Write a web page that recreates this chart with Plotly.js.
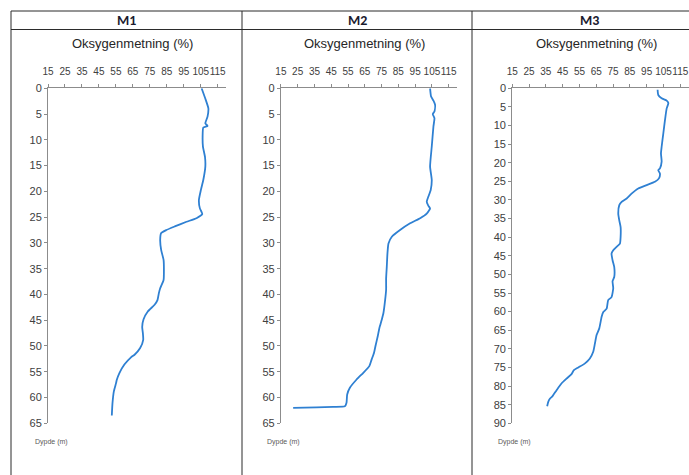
<!DOCTYPE html>
<html>
<head>
<meta charset="utf-8">
<script src="https://cdn.plot.ly/plotly-3.0.1.min.js"></script>
<style>html,body{margin:0;padding:0;background:#fff;}#chart{width:689px;height:475px;}</style>
</head>
<body>
<div id="chart"></div>
<script>
// Stations
const stations = ["M1", "M2", "M3"];
const xTitle = "Oksygenmetning (%)";
const yTitle = "Dypde (m)";
const xTickVals = [15, 25, 35, 45, 55, 65, 75, 85, 95, 105, 115];

// M1
const m1Depth = [0,2.3,3.9,5.5,6.8,7.3,7.6,9.4,11.3,13.3,15.2,17.8,19.7,21.7,23.3,24.4,25.2,25.9,26.8,27.5,28.1,29.4,31.4,33.3,35.2,37.2,38.8,39.8,41.1,42.0,43.3,44.8,46.3,47.5,48.8,50.4,51.7,52.2,53.6,55.3,56.6,57.2,58.8,61.1,63.5];
const m1Oxy = [105.5,108,109.5,109,107.7,109,106.5,106.1,106.3,107.5,107.7,106.5,105.1,103.9,104.5,105.9,102.5,96.6,89.7,84.7,81.7,81.1,81.7,83.1,83.3,83.1,81.1,80.3,79.5,77.8,73.8,71.3,70.5,70.9,71.1,69.3,66,63.9,60,57,55.5,55.1,53.8,53,52.6];

// M2
const m2Depth = [0,1.6,2.4,3.2,4.5,5.0,5.8,7.4,11.3,15.2,17.8,19.7,21.0,22.0,22.8,23.3,24.3,25.2,26.2,27.5,28.8,30.1,32.0,34.6,36.9,39.1,41.1,43.6,44.9,46.5,48.1,49.8,51.3,52.6,53.9,55.2,56.5,58.1,59.4,61.0,61.7,61.8,61.9,62.0];
const m2Oxy = [103.9,104.5,105.9,106.9,106.5,105.5,106.5,105.9,104.9,103.9,104.9,104.3,102.9,101.9,102.9,103.9,101.9,98,92,86,81.1,79.1,78.5,78.1,77.7,77.7,77.1,76.1,75.1,73.7,72.7,71.5,70.5,69.1,67.7,64.1,60.1,56.1,54.5,54.1,53.1,46.1,36.2,22.3];

// M3
const m3Depth = [0.4,1.8,2.7,3.3,4.0,5.4,8.5,12.1,15.7,17.5,19.7,21.5,22.0,22.9,24.2,25.1,26.0,26.9,28.3,29.6,30.5,31.4,33.7,35.5,37.3,39.9,41.7,42.6,43.5,44.4,46.2,48.0,50.7,51.8,53.7,56.1,56.9,59.2,60.1,61.4,64.5,66.3,68.6,70.8,72.6,73.9,75.0,75.7,76.8,78.0,79.3,81.1,82.7,83.4,84.3,85.4];
const m3Oxy = [101.5,101.9,103.9,106.9,107.9,106.9,105.9,104.9,103.9,103.5,103.9,102.9,101.9,102.9,102.3,99.9,95,90,86,83.1,80.1,78.7,78.1,78.7,79.5,79.5,79.1,77.1,75.1,74.1,74.7,75.7,75.7,74.7,75.1,74.1,72.1,71.2,69.2,68.2,66.8,65.2,64.2,63.2,61.2,58.3,54.3,51.7,50.3,47.3,44.3,41.4,39.0,37.4,36.4,35.8];

const depthMax = [65, 65, 90];

const W = 689, H = 475;
const px = v => v / W;
const py = v => 1 - v / H;

const lineColor = "#2f80d2";
const axisColor = "#8c8c8c";
const fam = "Liberation Sans, Arial, sans-serif";
const xTickFont = {family: fam, size: 10, color: "#404040"};
const yTickFont = {family: fam, size: 11, color: "#404040"};

const series = [[m1Oxy, m1Depth], [m2Oxy, m2Depth], [m3Oxy, m3Depth]];
const traces = series.map((s, i) => ({
  x: s[0], y: s[1], type: "scatter", mode: "lines",
  line: {color: lineColor, width: 1.8, shape: "spline", smoothing: 0.5},
  xaxis: i === 0 ? "x" : "x" + (i + 1),
  yaxis: i === 0 ? "y" : "y" + (i + 1),
  showlegend: false, hoverinfo: "skip"
}));

const xDomains = [[48 / W, 226.2 / W], [280.9 / W, 457.1 / W], [512.2 / W, 688.7 / W]];
const yDomain = [py(423.3), py(88.3)];

const layout = {
  width: W, height: H,
  margin: {l: 0, r: 0, t: 0, b: 0},
  paper_bgcolor: "#ffffff", plot_bgcolor: "rgba(0,0,0,0)",
  showlegend: false,
  shapes: [], annotations: []
};

for (let i = 0; i < 3; i++) {
  const sx = i === 0 ? "" : String(i + 1);
  layout["xaxis" + sx] = {
    domain: xDomains[i], range: [15, 120], side: "top",
    anchor: "y" + sx, tickmode: "array", tickvals: xTickVals, tickangle: 0,
    ticks: "outside", ticklen: 3, tickcolor: axisColor, tickwidth: 1,
    showline: true, linecolor: axisColor, linewidth: 1,
    showgrid: false, zeroline: false, tickfont: xTickFont, ticklabelstandoff: 5, fixedrange: true
  };
  const dvals = [];
  for (let d = 0; d <= depthMax[i]; d += 5) dvals.push(d);
  layout["yaxis" + sx] = {
    domain: yDomain, range: [depthMax[i], 0],
    anchor: "x" + sx, tickmode: "array", tickvals: dvals,
    ticks: "outside", ticklen: 3, tickcolor: axisColor, tickwidth: 1,
    showline: true, linecolor: axisColor, linewidth: 1,
    showgrid: false, zeroline: false, tickfont: yTickFont, fixedrange: true
  };
}

// Table frame
const frameColor = "#2b2b2b";
layout.shapes.push(
  {type: "line", xref: "paper", yref: "paper", x0: px(11), x1: px(689), y0: py(11), y1: py(11), line: {color: frameColor, width: 1}},
  {type: "line", xref: "paper", yref: "paper", x0: px(11), x1: px(689), y0: py(29.5), y1: py(29.5), line: {color: frameColor, width: 1}},
  {type: "line", xref: "paper", yref: "paper", x0: px(11), x1: px(11), y0: py(11), y1: py(475), line: {color: frameColor, width: 1}},
  {type: "line", xref: "paper", yref: "paper", x0: px(242), x1: px(242), y0: py(11), y1: py(475), line: {color: frameColor, width: 1}},
  {type: "line", xref: "paper", yref: "paper", x0: px(472), x1: px(472), y0: py(11), y1: py(475), line: {color: frameColor, width: 1}}
);

const headerX = [126.5, 357.5, 589];
const titleX = [132, 364, 596];
const dypdeX = [33, 265, 496];
for (let i = 0; i < 3; i++) {
  layout.annotations.push({
    text: "<b>" + stations[i] + "</b>", xref: "paper", yref: "paper",
    x: px(headerX[i]), y: py(20), xanchor: "center", yanchor: "middle", showarrow: false,
    font: {family: "Carlito, Liberation Sans, Arial, sans-serif", size: 14, color: "#1a1a2e"}
  });
  layout.annotations.push({
    text: xTitle, xref: "paper", yref: "paper",
    x: px(titleX[i]), y: py(43), xanchor: "center", yanchor: "middle", showarrow: false,
    font: {family: fam, size: 13, color: "#262626"}
  });
  layout.annotations.push({
    text: yTitle, xref: "paper", yref: "paper",
    x: px(dypdeX[i]), y: py(442), xanchor: "left", yanchor: "middle", showarrow: false,
    font: {family: fam, size: 7, color: "#595959"}
  });
}

Plotly.newPlot("chart", traces, layout, {displayModeBar: false, staticPlot: true});
</script>
</body>
</html>
